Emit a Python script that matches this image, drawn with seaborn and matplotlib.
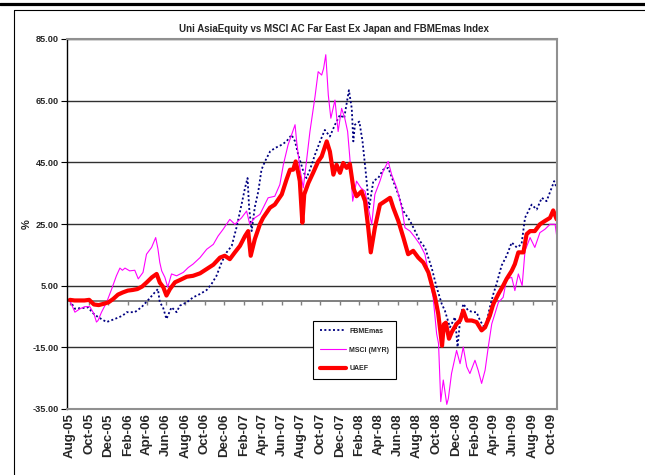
import matplotlib
matplotlib.use("Agg")
import matplotlib.pyplot as plt
import matplotlib.dates as mdates
from matplotlib.lines import Line2D
import pandas as pd
import seaborn as sns

# ---------------- data (days since 2005-08-01, value in %) ----------------
start_date = "2005-08-01"

uaef_days = [0, 15, 30, 46, 61, 76, 91, 106, 122, 137, 152, 167, 183, 198, 213, 228, 243, 259, 274, 284,
             295, 305, 316, 332, 347, 369, 389, 411, 432, 453, 474, 489, 505, 521, 537, 553, 563, 571, 584, 600,
             610, 632, 647, 669, 684, 695, 705, 713, 721, 726, 734, 740, 753, 768, 784, 795, 811, 821, 832, 842,
             853, 863, 874, 884, 895, 905, 921, 932, 942, 950, 963, 979, 995, 1011, 1021, 1037, 1053, 1068, 1084, 1100,
             1116, 1132, 1142, 1153, 1163, 1170, 1175, 1181, 1187, 1197, 1206, 1221, 1232, 1242, 1253, 1269, 1284, 1300, 1311, 1326,
             1337, 1353, 1368, 1379, 1395, 1405, 1416, 1432, 1442, 1453, 1468, 1484, 1500, 1516, 1526, 1537]
uaef_vals = [0.4, 0.2, 0.2, 0.2, 0.4, -1.1, -1.3, -0.9, -0.4, 0.7, 2.1, 2.8, 3.4, 3.6, 3.9, 4.7, 6.1, 7.7, 8.8, 6.0,
             4.5, 1.8, 3.9, 6.1, 6.8, 7.9, 8.2, 9.0, 10.4, 11.8, 14.1, 14.7, 13.6, 15.8, 17.9, 21.1, 22.7, 14.7, 20.1, 24.9,
             27.0, 30.3, 31.3, 34.6, 39.4, 42.6, 42.6, 45.3, 41.6, 38.9, 25.4, 34.6, 38.3, 41.6, 45.3, 46.9, 51.8, 48.5, 41.0, 44.2,
             41.6, 44.8, 43.2, 44.5, 36.7, 34.0, 35.6, 32.4, 23.8, 15.8, 23.8, 31.3, 32.4, 33.5, 30.3, 26.0, 20.6, 15.2, 16.3, 14.1,
             12.5, 9.3, 5.5, 1.2, -4.1, -10.0, -14.5, -7.5, -7.0, -12.2, -10.0, -7.4, -6.3, -3.1, -6.3, -6.3, -6.8, -9.5, -8.5, -4.7,
             -0.9, 2.3, 5.0, 7.2, 9.8, 12.0, 15.8, 15.8, 21.7, 22.7, 22.7, 24.9, 26.0, 27.0, 29.4, 26.5]

msci_days = [0, 16, 32, 47, 63, 76, 84, 89, 100, 116, 132, 147, 158, 166, 174, 189, 205, 216, 231, 242,
             258, 271, 278, 284, 290, 300, 309, 321, 337, 358, 374, 389, 411, 432, 453, 468, 484, 505, 521, 542,
             558, 568, 584, 600, 626, 647, 663, 674, 689, 700, 711, 716, 726, 737, 747, 758, 774, 784, 795, 801,
             808, 816, 824, 837, 847, 858, 868, 877, 884, 893, 905, 919, 932, 942, 953, 963, 979, 989, 1005, 1016,
             1032, 1048, 1058, 1074, 1090, 1105, 1121, 1137, 1147, 1158, 1164, 1171, 1179, 1190, 1195, 1205, 1221, 1232, 1242, 1253,
             1263, 1279, 1289, 1300, 1311, 1321, 1332, 1342, 1353, 1368, 1379, 1395, 1405, 1416, 1428, 1437, 1453, 1468, 1484, 1500,
             1516, 1532, 1537]
msci_vals = [0.2, -3.6, -2.5, -1.8, -1.8, -4.1, -6.8, -6.3, -3.6, -0.4, 3.9, 8.2, 10.7, 10.0, 10.7, 9.8, 10.0, 7.2, 9.3, 15.2,
             17.4, 20.6, 17.0, 12.5, 9.8, 7.7, 4.5, 8.8, 8.2, 9.3, 10.9, 12.0, 14.1, 16.8, 18.4, 21.1, 23.3, 26.5, 24.9, 27.0,
             29.2, 24.9, 27.0, 28.1, 33.5, 34.0, 37.8, 44.2, 50.7, 53.9, 57.2, 51.8, 43.2, 36.7, 45.3, 55.0, 66.3, 74.4, 73.3, 75.4,
             79.9, 66.8, 59.3, 65.2, 55.0, 62.5, 59.3, 55.0, 46.4, 32.4, 38.9, 36.7, 35.6, 30.3, 24.9, 34.6, 38.9, 42.1, 45.3, 41.0,
             36.7, 30.3, 23.8, 22.7, 20.6, 18.4, 15.2, 6.6, 1.2, -10.6, -13.8, -32.6, -25.6, -33.5, -31.6, -23.5, -16.0, -20.3, -14.9, -21.3,
             -23.5, -19.2, -22.4, -26.7, -22.4, -14.9, -7.4, -4.1, -0.4, 1.2, 7.2, 7.7, 3.4, 8.8, 5.0, 16.3, 20.6, 17.4, 22.2, 23.3,
             24.9, 24.9, 21.1]

fbm_days = [0, 16, 32, 47, 57, 73, 89, 116, 142, 167, 179, 205, 226, 246, 268, 278, 284, 294, 305, 321,
            337, 347, 369, 389, 411, 432, 447, 463, 479, 495, 511, 526, 542, 553, 561, 566, 574, 584, 595, 605,
            616, 632, 647, 669, 684, 700, 711, 721, 737, 747, 758, 774, 790, 805, 821, 837, 853, 866, 881, 890,
            895, 900, 914, 924, 935, 945, 958, 974, 989, 1005, 1021, 1037, 1053, 1074, 1090, 1105, 1121, 1142, 1158, 1174,
            1184, 1200, 1216, 1224, 1232, 1242, 1258, 1274, 1284, 1295, 1311, 1326, 1337, 1347, 1363, 1379, 1395, 1411, 1426, 1437,
            1458, 1474, 1490, 1505, 1521, 1529, 1537]
fbm_vals = [0.2, -2.5, -2.3, -2.2, -2.0, -3.9, -5.2, -6.8, -5.8, -4.7, -3.6, -3.6, -2.0, 0.2, 2.8, 3.9, -0.4, -2.0, -5.8, -2.0,
            -3.6, -1.5, -0.4, 1.2, 2.3, 3.6, 5.5, 8.2, 12.5, 15.8, 17.9, 23.8, 31.3, 36.7, 39.9, 30.3, 22.7, 30.5, 35.6, 42.6,
            45.3, 48.5, 49.6, 50.7, 51.8, 53.9, 51.8, 47.5, 42.1, 39.9, 42.6, 47.5, 51.8, 55.5, 53.4, 57.2, 60.4, 59.3, 68.4, 62.5,
            51.8, 57.2, 58.2, 51.8, 41.0, 30.3, 38.9, 40.0, 42.6, 43.2, 38.9, 34.6, 29.2, 26.0, 22.7, 19.5, 17.4, 10.9, 4.5, -0.9,
            -3.1, -8.5, -5.2, -14.9, -6.3, -0.9, -3.1, -3.6, -3.6, -6.3, -9.0, -2.0, 2.3, 5.5, 11.5, 14.7, 19.0, 17.4, 18.4, 27.0,
            31.3, 29.7, 33.5, 32.4, 36.7, 38.9, 36.7]

series_names = ["FBMEmas", "MSCI (MYR)", "UAEF"]
title_text = "Uni AsiaEquity vs MSCI AC Far East Ex Japan and FBMEmas Index"
y_ticks = [-35, -15, 5, 25, 45, 65, 85]

# ---------------- build frames ----------------
t0 = pd.Timestamp(start_date)
def frame(days, vals):
    return pd.DataFrame({"date": t0 + pd.to_timedelta(days, unit="D"), "value": vals})

df_fbm = frame(fbm_days, fbm_vals)
df_msci = frame(msci_days, msci_vals)
df_uaef = frame(uaef_days, uaef_vals)

# ---------------- style ----------------
sns.set_theme(style="white")
narrow = ["Liberation Sans Narrow", "Liberation Sans", "DejaVu Sans"]
plt.rcParams["font.family"] = ["Liberation Sans", "DejaVu Sans"]

fig = plt.figure(figsize=(6.45, 4.75), dpi=100)
fig.patch.set_facecolor("white")
ax = fig.add_axes([67 / 645, 1 - 409 / 475, 490 / 645, 370 / 475])
ax.set_facecolor("white")

# gridlines + zero axis
ax.set_axisbelow(True)
ax.yaxis.grid(True, color="#303030", linewidth=1.0)
ax.xaxis.grid(False)
ax.axhline(0, color="#808080", linewidth=1.4, zorder=1.5)

sns.lineplot(data=df_fbm, x="date", y="value", ax=ax, color="#000080",
             linewidth=1.3, linestyle=(0, (1.1, 1.3)), estimator=None, label=series_names[0])
sns.lineplot(data=df_msci, x="date", y="value", ax=ax, color="#FF00FF",
             linewidth=0.8, estimator=None, label=series_names[1])
sns.lineplot(data=df_uaef, x="date", y="value", ax=ax, color="#FF0000",
             linewidth=3.0, estimator=None, label=series_names[2])

ax.set_ylim(-35, 85)
ax.set_yticks(y_ticks)
ax.set_yticklabels([f"{v:.2f}" for v in y_ticks])
ax.set_xlim(pd.Timestamp("2005-07-23"), pd.Timestamp("2009-10-17"))

loc = mdates.MonthLocator(bymonth=[2, 4, 6, 8, 10, 12])
ax.xaxis.set_major_locator(loc)
ax.xaxis.set_major_formatter(mdates.DateFormatter("%b-%y"))
ax.tick_params(axis="x", length=0, pad=3, labelsize=9.5, rotation=90)
for lab in ax.get_xticklabels():
    lab.set_fontweight("bold")
    lab.set_family(["Liberation Sans", "DejaVu Sans"])
ax.tick_params(axis="y", left=True, length=4, width=0.8, color="black", pad=2, labelsize=6.6)
for lab in ax.get_yticklabels():
    lab.set_fontweight("bold")
    lab.set_family(narrow)

# tick marks on the zero axis
tick_dates = loc.tick_values(pd.Timestamp("2005-07-23"), pd.Timestamp("2009-10-17"))
ax.vlines(mdates.num2date(tick_dates), -1.3, 0, color="#808080", linewidth=1.0, zorder=1.5)

ax.set_xlabel("")
ax.set_ylabel("%", fontsize=8, fontweight="bold")
ax.yaxis.set_label_coords(-0.072, 0.5)

for side in ["top", "right", "bottom"]:
    ax.spines[side].set_color("#909090")
    ax.spines[side].set_linewidth(1.5)
ax.spines["left"].set_color("black")
ax.spines["left"].set_linewidth(1.0)

fig.text(0.517, 1 - 28.5 / 475, title_text, ha="center", va="center",
         fontsize=7.0, fontweight="bold", family=narrow)

leg = ax.legend(loc="lower left", bbox_to_anchor=(0.502, 0.081), borderaxespad=0,
                frameon=True, fancybox=False, shadow=False, framealpha=1,
                edgecolor="black", prop={"family": narrow, "weight": "bold", "size": 5.0},
                handlelength=3.8, handletextpad=0.5, labelspacing=1.7, borderpad=0.95)
leg.get_frame().set_linewidth(0.8)
leg.set_zorder(5)

# page frame lines
fig.add_artist(Line2D([0, 1], [1 - 3.5 / 475, 1 - 3.5 / 475], color="black", linewidth=2.3,
                      transform=fig.transFigure))
fig.add_artist(Line2D([14 / 645, 1], [1 - 10 / 475, 1 - 10 / 475], color="black", linewidth=0.8,
                      transform=fig.transFigure))
fig.add_artist(Line2D([14 / 645, 14 / 645], [0, 1 - 10 / 475], color="black", linewidth=0.8,
                      transform=fig.transFigure))

fig.savefig("out.png", dpi=100, facecolor="white")
